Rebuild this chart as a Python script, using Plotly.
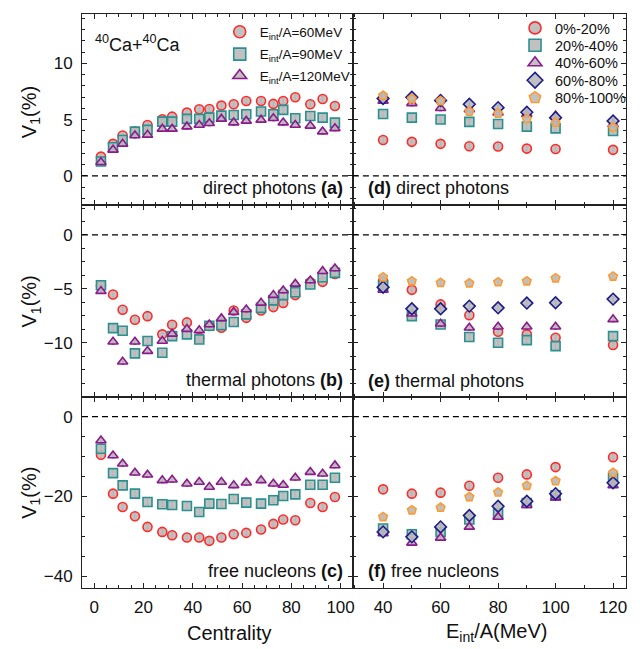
import plotly.graph_objects as go
from plotly.subplots import make_subplots

# ---------------- data ----------------
centrality = [2.7, 7.6, 11.5, 16.5, 21.6, 27.6, 31.6, 37.6, 42.6, 46.7,
              51.6, 56.6, 61.7, 67.7, 72.7, 76.7, 81.6, 87.7, 92.7, 97.7]

# (a) direct photons vs centrality
a_e60 = [1.71, 2.84, 3.58, 3.93, 4.52, 5.03, 5.26, 5.62, 5.91, 5.94,
         6.24, 6.36, 6.65, 6.65, 6.39, 6.65, 6.98, 6.36, 6.83, 6.21]
a_e90 = [1.27, 2.54, 3.19, 3.93, 4.08, 4.82, 4.82, 5.06, 5.06, 5.17,
         5.35, 5.41, 5.47, 5.71, 5.47, 5.86, 5.11, 5.32, 5.17, 4.73]
a_e120 = [1.21, 2.31, 2.84, 3.58, 3.64, 4.17, 4.17, 4.37, 4.52, 4.67,
          5.06, 4.73, 4.88, 4.97, 5.11, 4.73, 4.52, 4.44, 3.93, 4.22]

# (b) thermal photons vs centrality
b_e60 = [-4.70, -5.52, -6.94, -7.87, -7.53, -9.22, -8.33, -8.11, -9.54, -8.45,
         -8.61, -7.00, -7.69, -7.00, -6.69, -6.30, -5.58, -4.38, -4.35, -3.61]
b_e90 = [-4.66, -8.64, -8.89, -10.98, -9.84, -10.93, -9.38, -9.22, -9.69, -8.42,
         -8.36, -8.08, -7.37, -6.76, -6.07, -5.58, -5.31, -4.60, -3.92, -3.52]
b_e120 = [-5.21, -9.91, -11.76, -9.91, -10.77, -9.84, -9.17, -8.73, -8.85, -8.30,
          -7.74, -7.16, -6.91, -6.30, -5.58, -5.15, -4.54, -4.22, -3.36, -3.11]

# (c) free nucleons vs centrality
c_e60 = [-9.58, -19.33, -22.67, -25.00, -27.67, -28.92, -29.75, -30.33, -30.33, -31.17,
         -30.33, -29.50, -29.17, -28.33, -26.92, -25.83, -26.00, -21.67, -22.67, -20.17]
c_e90 = [-8.08, -14.17, -17.25, -19.33, -21.42, -22.00, -22.17, -22.42, -23.92, -21.83,
         -21.92, -20.67, -21.58, -21.83, -21.00, -19.92, -19.50, -17.08, -17.08, -15.33]
c_e120 = [-6.00, -9.75, -11.83, -14.08, -14.58, -16.00, -15.83, -16.83, -16.42, -17.67,
          -16.42, -17.25, -16.58, -16.00, -16.83, -17.17, -15.33, -13.92, -14.33, -12.25]

energy = [40, 50, 60, 70, 80, 90, 100, 120]

# (d) direct photons vs energy
d_c0_20 = [3.19, 3.02, 2.84, 2.63, 2.60, 2.42, 2.39, 2.31]
d_c20_40 = [5.50, 5.17, 5.00, 4.79, 4.61, 4.37, 4.22, 3.99]
d_c40_60 = [6.65, 6.44, 6.00, 5.90, 5.62, 5.47, 5.35, 4.58]
d_c60_80 = [6.88, 6.98, 6.70, 6.36, 6.06, 5.65, 5.17, 4.88]
d_c80_100 = [7.13, 6.83, 6.65, 5.71, 5.53, 5.06, 4.73, 4.31]

# (e) thermal photons vs energy
e_c0_20 = [-4.30, -5.09, -6.44, -7.44, -8.98, -9.22, -9.54, -10.21]
e_c20_40 = [-4.70, -7.53, -8.30, -9.47, -10.00, -9.75, -10.31, -9.38]
e_c40_60 = [-5.10, -7.31, -8.24, -8.61, -8.52, -8.52, -8.52, -7.83]
e_c60_80 = [-4.84, -6.85, -6.85, -6.60, -6.76, -6.32, -6.29, -5.95]
e_c80_100 = [-3.92, -4.29, -4.44, -4.48, -4.38, -4.29, -4.01, -3.85]

# (f) free nucleons vs energy
f_c0_20 = [-18.25, -19.33, -19.08, -17.33, -15.33, -14.50, -12.67, -10.17]
f_c20_40 = [-28.08, -29.50, -28.92, -25.83, -24.33, -21.67, -19.75, -15.33]
f_c40_60 = [-29.33, -31.67, -30.42, -27.67, -25.17, -22.25, -20.33, -17.25]
f_c60_80 = [-28.92, -30.17, -27.67, -24.83, -22.50, -21.25, -19.33, -16.58]
f_c80_100 = [-25.17, -23.50, -22.83, -20.17, -19.00, -17.33, -16.17, -14.08]

energy_labels = ["E<sub>int</sub>/A=60MeV", "E<sub>int</sub>/A=90MeV", "E<sub>int</sub>/A=120MeV"]
centrality_labels = ["0%-20%", "20%-40%", "40%-60%", "60%-80%", "80%-100%"]

y_tickvals = [[0, 5, 10], [0, -5, -10], [0, -20, -40]]

# ---------------- styling ----------------
FONT = "Liberation Sans, Arial, sans-serif"
FILL = "rgba(188,188,188,0.92)"
e_styles = [("circle", "#ff2a2a"), ("square", "#2a9090"), ("triangle-up", "#8c1a8c")]
c_styles = [("circle", "#ff2a2a"), ("square", "#2a9090"), ("triangle-up", "#8c1a8c"),
            ("diamond", "#1c1c8c"), ("pentagon", "#ff9a30")]
err_size = [0.22, 0.22, 0.6]

e_legends = ["legend", "legend2", "legend3"]
c_legends = ["legend4", "legend5", "legend6", "legend7", "legend8"]

fig = make_subplots(rows=3, cols=2, horizontal_spacing=0, vertical_spacing=0)

left_sets = [[a_e60, a_e90, a_e120], [b_e60, b_e90, b_e120], [c_e60, c_e90, c_e120]]
right_sets = [[d_c0_20, d_c20_40, d_c40_60, d_c60_80, d_c80_100],
              [e_c0_20, e_c20_40, e_c40_60, e_c60_80, e_c80_100],
              [f_c0_20, f_c20_40, f_c40_60, f_c60_80, f_c80_100]]

for r in range(3):
    for i, ys in enumerate(left_sets[r]):
        sym, col = e_styles[i]
        fig.add_trace(go.Scatter(
            x=centrality, y=ys, mode="markers", name=energy_labels[i],
            marker=dict(symbol=sym, size=9, color=FILL, line=dict(color=col, width=1.6)),
            error_y=dict(type="constant", value=err_size[r], color=col, thickness=1, width=1.5),
            showlegend=False),
            row=r + 1, col=1)
    for i, ys in enumerate(right_sets[r]):
        sym, col = c_styles[i]
        fig.add_trace(go.Scatter(
            x=energy, y=ys, mode="markers", name=centrality_labels[i],
            marker=dict(symbol=sym, size=9, color=FILL, line=dict(color=col, width=1.6)),
            error_y=dict(type="constant", value=err_size[r], color=col, thickness=1, width=1.5),
            showlegend=False),
            row=r + 1, col=2)

# legend-only entries (larger symbols, like the reference key)
for i, (sym, col) in enumerate(e_styles):
    fig.add_trace(go.Scatter(x=[None], y=[None], mode="markers", name=energy_labels[i],
                             marker=dict(symbol=sym, size=12, color=FILL, line=dict(color=col, width=1.6)),
                             showlegend=True, legend=e_legends[i]), row=1, col=1)
for i, (sym, col) in enumerate(c_styles):
    fig.add_trace(go.Scatter(x=[None], y=[None], mode="markers", name=centrality_labels[i],
                             marker=dict(symbol=sym, size=12, color=FILL, line=dict(color=col, width=1.6)),
                             showlegend=True, legend=c_legends[i]), row=1, col=2)

# domains (pixel-matched)
xdom = [[0, 0.498], [0.498, 1]]
ydom = [[0.6667, 1], [0.3333, 0.6667], [0, 0.3333]]
yranges = [[-2.62, 14.38], [-15, 2.75], [-43, 5]]
yminor = [1, 1.25, 5]

axis_common = dict(showline=True, linecolor="#222", linewidth=1, mirror="ticks",
                   ticks="inside", ticklen=5, tickwidth=1, tickcolor="#222",
                   showgrid=False, zeroline=False,
                   tickfont=dict(family=FONT, size=17, color="#111"))

for r in range(3):
    for c in range(2):
        idx = r * 2 + c + 1
        xname = "xaxis" if idx == 1 else "xaxis%d" % idx
        yname = "yaxis" if idx == 1 else "yaxis%d" % idx
        if c == 0:
            xa = dict(range=[-5, 105], tick0=0, dtick=20,
                      minor=dict(dtick=5, ticks="inside", ticklen=3, tickcolor="#222"))
        else:
            xa = dict(range=[29.5, 124.5], tick0=40, dtick=20,
                      minor=dict(dtick=10, ticks="inside", ticklen=3, tickcolor="#222"))
        xa.update(axis_common)
        xa.update(domain=xdom[c], showticklabels=(r == 2), ticklabelstandoff=4)
        ya = dict(range=yranges[r], tickmode="array", tickvals=y_tickvals[r],
                  minor=dict(tick0=0, dtick=yminor[r], ticks="inside", ticklen=3, tickcolor="#222"))
        ya.update(axis_common)
        ya.update(domain=ydom[r], showticklabels=(c == 0), ticklabelstandoff=5)
        fig.layout[xname].update(xa)
        fig.layout[yname].update(ya)
        # zero reference line
        fig.add_shape(type="line", xref="%s domain" % ("x" if idx == 1 else "x%d" % idx),
                      yref=("y" if idx == 1 else "y%d" % idx),
                      x0=0, x1=1, y0=0, y1=0,
                      line=dict(color="black", width=1.2, dash="6px,4px"))

def px_x(px):
    return (px - 82) / 549.0

def px_y(py):
    return (588 - py) / 576.0

annots = [
    ("<sup>40</sup>Ca+<sup>40</sup>Ca", 93, 42, "left", 18),
    ("direct photons <b>(a)</b>", 347, 187, "right", 18),
    ("thermal photons <b>(b)</b>", 347, 379, "right", 18),
    ("free nucleons <b>(c)</b>", 347, 571, "right", 18),
    ("<b>(d)</b> direct photons", 369, 187, "left", 18),
    ("<b>(e)</b> thermal photons", 369, 380, "left", 18),
    ("<b>(f)</b> free nucleons", 369, 571, "left", 18),
]
for text, px, py, anchor, size in annots:
    fig.add_annotation(text=text, x=px_x(px), y=px_y(py), xref="paper", yref="paper",
                       xanchor=anchor, yanchor="middle", showarrow=False,
                       font=dict(family=FONT, size=size, color="#111"))

for py in [110, 300, 492]:
    fig.add_annotation(text="V<sub>1</sub>(%)", x=px_x(30), y=px_y(py), xref="paper", yref="paper",
                       xanchor="center", yanchor="middle", textangle=-90, showarrow=False,
                       font=dict(family=FONT, size=20, color="#111"))

fig.add_annotation(text="Centrality", x=px_x(230), y=px_y(633), xref="paper", yref="paper",
                   xanchor="center", yanchor="middle", showarrow=False,
                   font=dict(family=FONT, size=20, color="#111"))
fig.add_annotation(text="E<sub>int</sub>/A(MeV)", x=px_x(500), y=px_y(633), xref="paper", yref="paper",
                   xanchor="center", yanchor="middle", showarrow=False,
                   font=dict(family=FONT, size=20, color="#111"))

legend_layout = {}
for name, py in zip(e_legends, [30, 52.5, 74]):
    legend_layout[name] = dict(x=px_x(221), y=px_y(py), xanchor="left", yanchor="middle",
                               bgcolor="rgba(0,0,0,0)", font=dict(family=FONT, size=13.5),
                               itemsizing="trace")
for name, py in zip(c_legends, [26, 43.5, 61, 78.5, 96]):
    legend_layout[name] = dict(x=px_x(519), y=px_y(py), xanchor="left", yanchor="middle",
                               bgcolor="rgba(0,0,0,0)", font=dict(family=FONT, size=14.5),
                               itemsizing="trace")

fig.update_layout(
    width=644, height=649,
    margin=dict(l=82, r=13, t=12, b=61),
    paper_bgcolor="white", plot_bgcolor="white",
    font=dict(family=FONT, color="#111"),
    **legend_layout,
)

fig.write_html("out.html")
